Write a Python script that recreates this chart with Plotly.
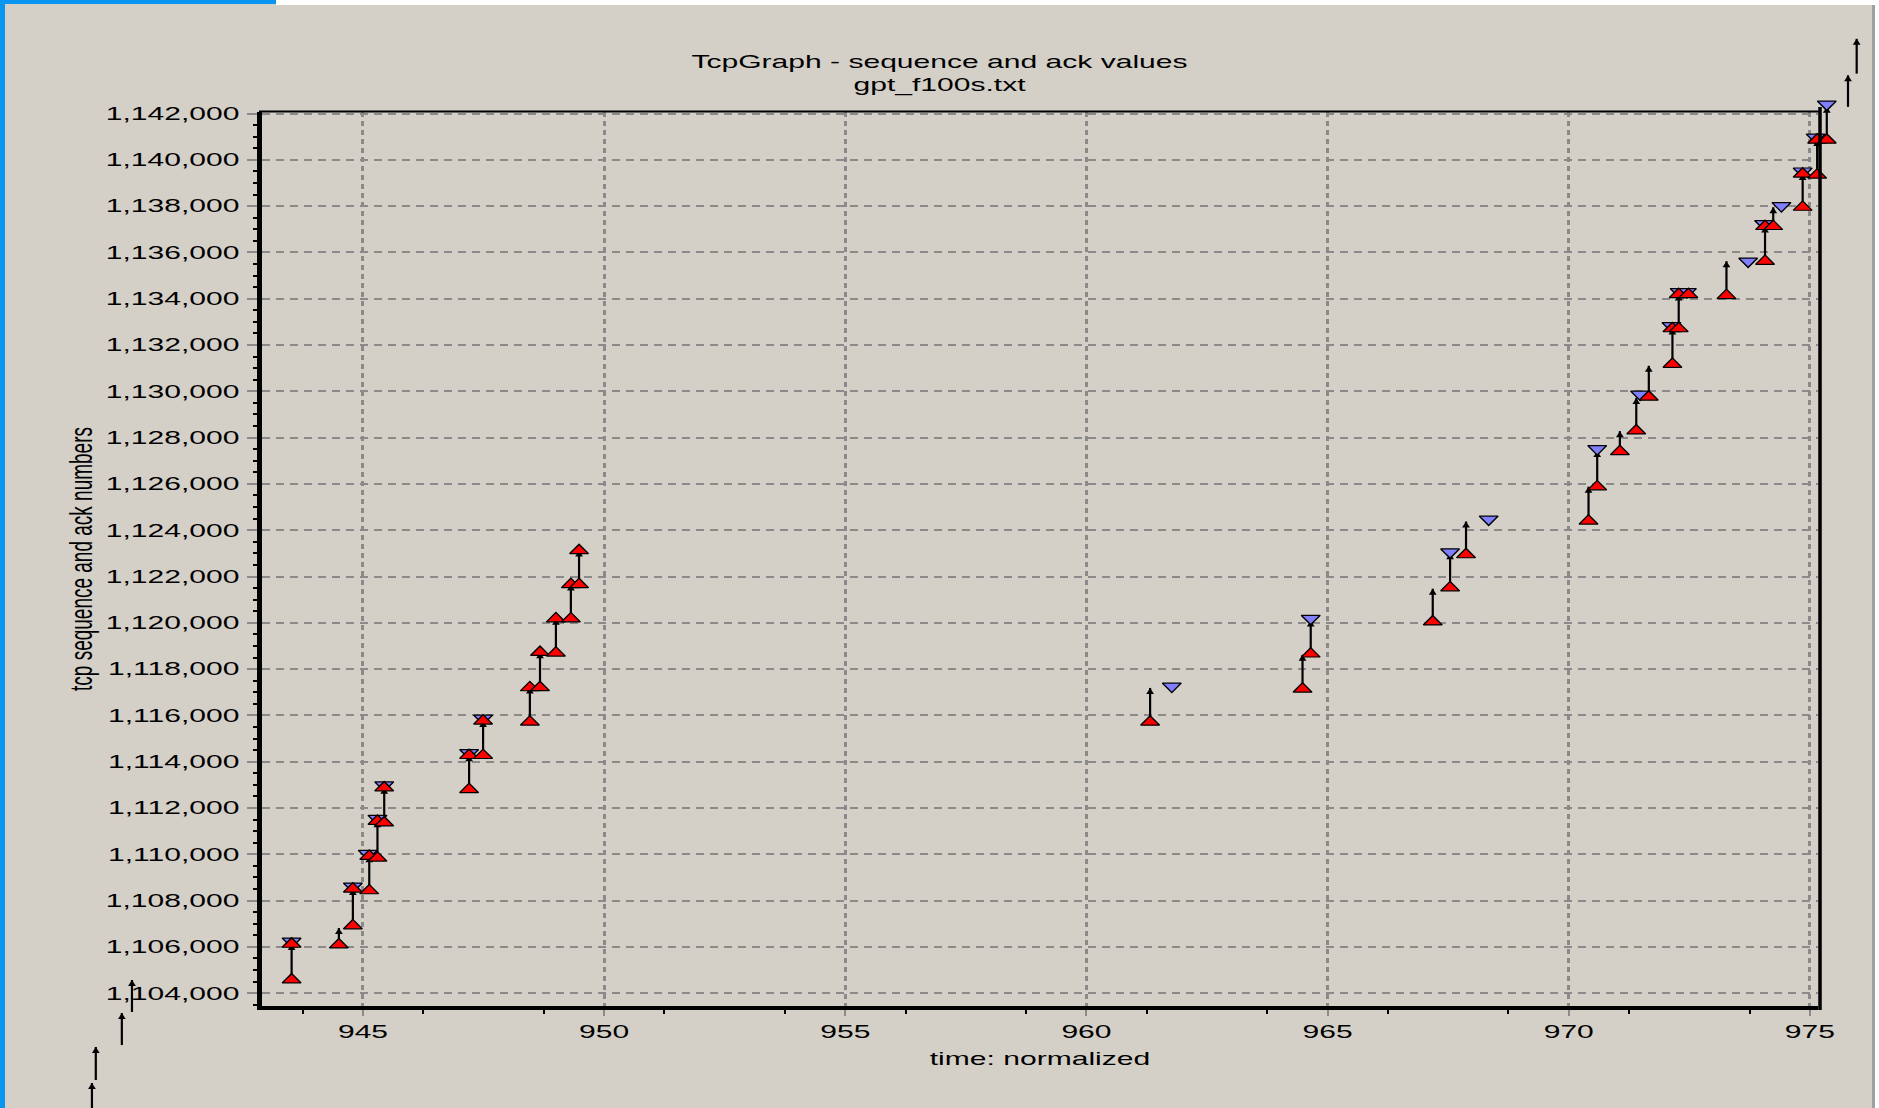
import plotly.graph_objects as go

W, H = 1879, 1108

# ---------------- data ----------------
# data segments: time, start sequence, end sequence (arrow at end)
seg_t = [943.52, 944.50, 944.79, 945.13, 945.30, 945.44, 947.20, 947.49, 948.46, 948.67,
         949.00, 949.31, 949.48,
         961.32, 964.48, 964.65, 967.18, 967.54, 967.87,
         970.41, 970.59, 971.06, 971.40, 971.66, 972.15, 972.28, 973.27, 974.07, 974.24,
         974.85, 975.15, 975.35,
         975.79, 975.97, 939.38, 939.46, 940.00, 940.21]
seg_lo = [1104577, 1106092, 1106915, 1108430, 1109844, 1111359, 1112802, 1114274, 1115717, 1117203,
          1118700, 1120176, 1121655,
          1115714, 1117143, 1118658, 1120044, 1121516, 1122946,
          1124402, 1125881, 1127403, 1128294, 1129750, 1131173, 1132708, 1134142, 1135619, 1137124,
          1137956, 1139347, 1140853,
          1142287, 1143721, 1097800, 1100250, 1101760, 1103190]
seg_hi = [1106121, 1106814, 1108502, 1109916, 1111431, 1112874, 1114274, 1115760, 1117200, 1118726,
          1120176, 1121655, 1123120,
          1117186, 1118615, 1120100, 1121473, 1123000, 1124374,
          1125881, 1127418, 1128279, 1129715, 1131102, 1132708, 1134185, 1135619, 1137124, 1137950,
          1139390, 1140853, 1142287,
          1143649, 1145227, 1100120, 1101676, 1103140, 1104570]

# red (up) triangles
red_t = [943.52, 943.52, 944.50, 944.79, 944.79, 945.13, 945.13, 945.30, 945.30, 945.44, 945.44,
         947.20, 947.20, 947.49, 947.49, 948.46, 948.46, 948.67, 948.67, 949.00, 949.00,
         949.31, 949.31, 949.48, 949.48,
         961.32, 964.48, 964.65, 967.18, 967.54, 967.87,
         970.41, 970.59, 971.06, 971.40, 971.66, 972.15, 972.15, 972.28, 972.28, 972.48,
         973.27, 974.07, 974.07, 974.24, 974.85, 974.85, 975.15, 975.15, 975.35]
red_v = [1104577, 1106121, 1106092, 1106915, 1108502, 1108430, 1109916, 1109844, 1111431, 1111359, 1112874,
         1112802, 1114274, 1114274, 1115760, 1115717, 1117200, 1117203, 1118726, 1118700, 1120176,
         1120176, 1121655, 1121655, 1123120,
         1115714, 1117143, 1118658, 1120044, 1121516, 1122946,
         1124402, 1125881, 1127403, 1128294, 1129750, 1131173, 1132708, 1132708, 1134185, 1134185,
         1134142, 1135619, 1137124, 1137124, 1137956, 1139390, 1139347, 1140853, 1140853]

# blue (down) triangles
blue_t = [943.52, 944.79, 945.10, 945.30, 945.44, 947.20, 947.49,
          961.77, 964.65, 967.54, 968.34,
          970.59, 971.48, 972.13, 972.30, 972.45, 973.72, 974.05, 974.41, 974.85, 975.12, 975.35]
blue_v = [1106240, 1108620, 1110035, 1111550, 1112990, 1114390, 1115880,
          1117257, 1120187, 1123060, 1124474,
          1127518, 1129870, 1132830, 1134300, 1134300, 1135619, 1137240, 1138013, 1139510, 1140970, 1142400]

x_ticks = [945, 950, 955, 960, 965, 970, 975]
title_text = "TcpGraph - sequence and ack values<br>gpt_f100s.txt"
x_title = "time: normalized"
y_title = "tcp sequence and ack numbers"

# ---------------- geometry ----------------
px_l, px_r, px_t, px_b = 262, 1818, 112, 1006
x_range = [942.906, 975.168]
y_range = [1103447, 1142065]
sx = (x_range[1] - x_range[0]) / (px_r - px_l)
sy = (y_range[1] - y_range[0]) / (px_b - px_t)
# invisible overlay axes spanning the whole page (same scale) so marks are not clipped
x2_range = [x_range[0] - px_l * sx, x_range[0] + (W - px_l) * sx]
y2_range = [y_range[0] - (H - px_b) * sy, y_range[1] + px_t * sy]

BG = "#D4D0C8"
GRID = "#8A8A8A"
FONT = "Liberation Sans"

seg_x, seg_y = [], []
for t, lo, hi in zip(seg_t, seg_lo, seg_hi):
    seg_x += [t, t, None]
    seg_y += [lo, hi, None]

fig = go.Figure()
# empty trace so that the main (framed) subplot is created
fig.add_trace(go.Scatter(x=[None], y=[None], mode="markers", xaxis="x", yaxis="y",
                         hoverinfo="skip", showlegend=False))
fig.add_trace(go.Scatter(x=seg_x, y=seg_y, mode="lines", xaxis="x2", yaxis="y2",
                         line=dict(color="black", width=2.2), hoverinfo="skip", showlegend=False))
fig.add_trace(go.Scatter(x=seg_t, y=seg_hi, mode="markers", xaxis="x2", yaxis="y2",
                         marker=dict(symbol="arrow-up", size=6, color="black"),
                         hoverinfo="skip", showlegend=False))
fig.add_trace(go.Scatter(x=blue_t, y=blue_v, mode="markers", xaxis="x2", yaxis="y2",
                         marker=dict(symbol="triangle-down", size=12.5, color="#8080FF",
                                     line=dict(color="black", width=1.2)),
                         showlegend=False))
fig.add_trace(go.Scatter(x=red_t, y=red_v, mode="markers", xaxis="x2", yaxis="y2",
                         marker=dict(symbol="triangle-up", size=12.5, color="#FF0000",
                                     line=dict(color="black", width=1.2)),
                         showlegend=False))

tickfont = dict(family=FONT, size=18, color="black")

fig.update_layout(
    width=W, height=H, margin=dict(l=0, r=0, t=0, b=0),
    paper_bgcolor=BG, plot_bgcolor="rgba(0,0,0,0)", showlegend=False,
    title=dict(text=title_text, x=0.5, xanchor="center", xref="paper",
               y=1 - 68 / H, yanchor="middle", yref="paper",
               font=dict(family=FONT, size=18, color="black")),
    xaxis=dict(domain=[px_l / W, px_r / W], range=x_range, anchor="y",
               tickmode="array", tickvals=x_ticks, ticktext=[str(v) for v in x_ticks],
               showgrid=True, gridcolor=GRID, gridwidth=2.5, griddash="5px,4px",
               zeroline=False, showline=True, linecolor="black", linewidth=4,
               ticks="outside", ticklen=6, tickwidth=2, tickcolor=GRID,
               minor=dict(tick0=943.75, dtick=2.5, ticks="outside", ticklen=4,
                          tickcolor="black", tickwidth=1.5, showgrid=False),
               tickfont=tickfont, automargin=False,
               title=dict(text=x_title, font=dict(family=FONT, size=18, color="black"),
                          standoff=13)),
    yaxis=dict(domain=[1 - px_b / H, 1 - px_t / H], range=y_range, anchor="x",
               tickmode="linear", tick0=1104000, dtick=2000, tickformat=",d",
               showgrid=True, gridcolor=GRID, gridwidth=2, griddash="8px,6px",
               zeroline=False, showline=True, linecolor="black", linewidth=5,
               ticks="outside", ticklen=10, tickwidth=2, tickcolor=GRID,
               minor=dict(tick0=1104000, dtick=500, ticks="outside", ticklen=4,
                          tickcolor="black", tickwidth=1.5, showgrid=False),
               tickfont=tickfont, automargin=False, ticklabelstandoff=4,
               title=dict(text=y_title, font=dict(family=FONT, size=19, color="black"),
                          standoff=68)),
    xaxis2=dict(domain=[0, 1], range=x2_range, anchor="y2", visible=False, fixedrange=True),
    yaxis2=dict(domain=[0, 1], range=y2_range, anchor="x2", visible=False, fixedrange=True),
    shapes=[
        # window chrome
        dict(type="rect", xref="paper", yref="paper", x0=0, x1=276 / W, y0=1 - 4 / H, y1=1,
             fillcolor="#0B95F2", line=dict(width=0), layer="below"),
        dict(type="rect", xref="paper", yref="paper", x0=276 / W, x1=1, y0=1 - 5 / H, y1=1,
             fillcolor="white", line=dict(width=0), layer="below"),
        dict(type="rect", xref="paper", yref="paper", x0=0, x1=5 / W, y0=0, y1=1,
             fillcolor="#0B95F2", line=dict(width=0), layer="below"),
        dict(type="rect", xref="paper", yref="paper", x0=1872 / W, x1=1875 / W, y0=0, y1=1 - 5 / H,
             fillcolor="#A0A0A0", line=dict(width=0), layer="below"),
        dict(type="rect", xref="paper", yref="paper", x0=1875 / W, x1=1, y0=0, y1=1,
             fillcolor="white", line=dict(width=0), layer="below"),
        # plot frame (top and right)
        dict(type="line", xref="paper", yref="paper", x0=259 / W, x1=1821 / W,
             y0=1 - 111.5 / H, y1=1 - 111.5 / H, line=dict(color="black", width=2)),
        dict(type="line", xref="paper", yref="paper", x0=1820 / W, x1=1820 / W,
             y0=1 - 1010 / H, y1=1 - 107 / H, line=dict(color="black", width=3.5)),
    ],
)

# horizontally widen text and triangle markers like the (stretched) original screenshot
stretch_js = """
var gd = document.getElementById('{plot_id}');
var k = 1.67;
gd.querySelectorAll('svg.main-svg text').forEach(function(el){
  try {
    var bb = el.getBBox();
    if (!bb || bb.width === 0) return;
    var anc = el.getAttribute('text-anchor') || 'start';
    var lx = anc === 'end' ? bb.x + bb.width : (anc === 'middle' ? bb.x + bb.width / 2 : bb.x);
    var ly = bb.y + bb.height / 2;
    var px = lx;
    var c = el.transform.baseVal.consolidate();
    if (c) { var m = c.matrix; px = m.a * lx + m.c * ly + m.e; }
    var t = el.getAttribute('transform') || '';
    el.setAttribute('transform', 'translate(' + px + ',0) scale(' + k + ',1) translate(' + (-px) + ',0) ' + t);
  } catch (e) {}
});
gd.querySelectorAll('g.scatterlayer path.point').forEach(function(p){
  try {
    var t = p.getAttribute('transform') || '';
    p.setAttribute('transform', t + ' scale(1.3,1)');
  } catch (e) {}
});
"""

fig.write_html("out.html", config={"displayModeBar": False}, post_script=stretch_js)
